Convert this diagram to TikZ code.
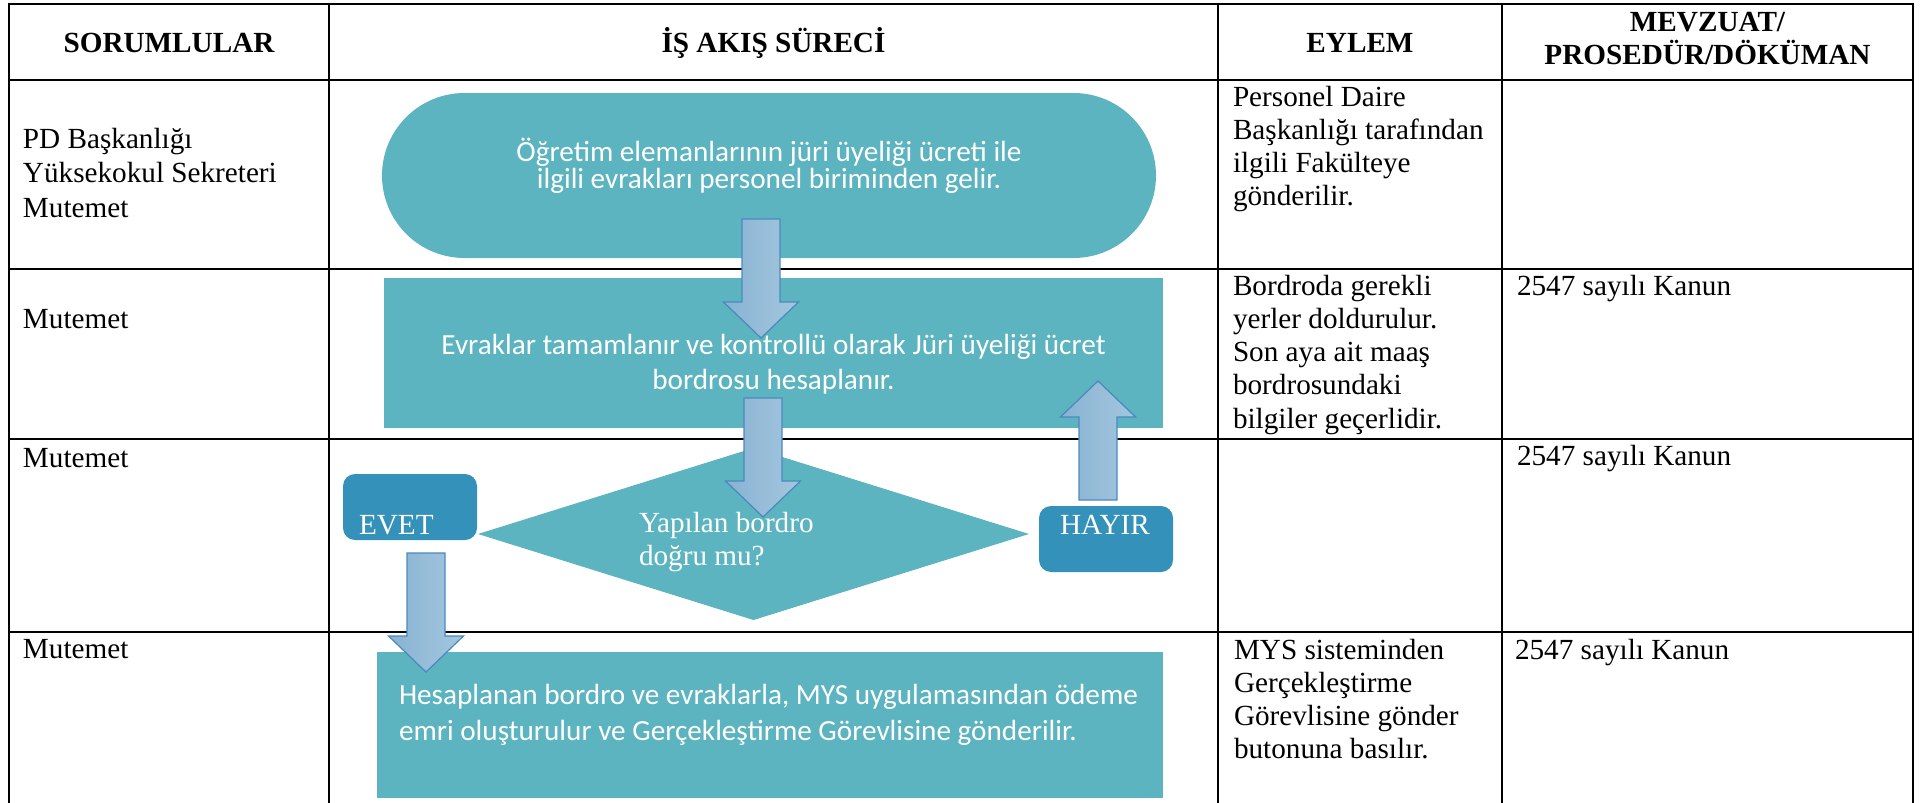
\documentclass[tikz,border=0pt]{standalone}
\usepackage{fontspec}
\setmainfont{Liberation Serif}
\newfontfamily\calib{Carlito}
\usetikzlibrary{shapes.geometric}
\definecolor{flowteal}{RGB}{91,180,191}
\definecolor{flowblue}{RGB}{52,146,186}
\definecolor{arrowL}{RGB}{136,179,211}
\definecolor{arrowR}{RGB}{164,198,222}
\definecolor{arrowE}{RGB}{74,137,190}
\newcommand\linesC[2]{\vtop{\baselineskip=#1\lineskiplimit=-\maxdimen\lineskip=0pt\relax\halign{\hfil##\hfil\cr#2\crcr}}}
\newcommand\linesL[2]{\vtop{\baselineskip=#1\lineskiplimit=-\maxdimen\lineskip=0pt\relax\halign{##\hfil\cr#2\crcr}}}
\begin{document}
\begin{tikzpicture}[x=0.5pt,y=-0.5pt,
  tableline/.style={line width=1.3pt, line cap=rect},
  tnr/.style={inner sep=0pt, outer sep=0pt, font=\fontsize{14.6}{17}\selectfont},
  cal/.style={inner sep=0pt, outer sep=0pt, text=white, font=\calib\fontsize{14.6}{17}\selectfont},
  flowshape/.style={fill=flowteal, draw=none, inner sep=0pt, outer sep=0pt},
  answerbox/.style={fill=flowblue, draw=none, rounded corners=6pt, inner sep=0pt, outer sep=0pt, minimum width=67pt, minimum height=33pt},
  blockarrow/.style={draw=arrowE, line width=0.6pt, left color=arrowL, right color=arrowR},
  downarrow/.pic={\path[blockarrow] (-19,0) -- (19,0) -- (19,83) -- (37.5,83) -- (0,119) -- (-37.5,83) -- (-19,83) -- cycle;}
]
\useasboundingbox (0,0) rectangle (1928,803);

% table grid
\draw[tableline] (9,4) -- (1913,4);
\foreach \y in {80,269,439,632} \draw[tableline] (9,\y) -- (1913,\y);
\foreach \x in {9,329,1218,1502,1913} \draw[tableline] (\x,4) -- (\x,803);

% header
\node[tnr, anchor=base] (hSor) at (169,52) {\bfseries SORUMLULAR};
\node[tnr, anchor=base] (hIs) at (773.5,52) {\bfseries İŞ AKIŞ SÜRECİ};
\node[tnr, anchor=base] (hEy) at (1360,52) {\bfseries EYLEM};
\node[tnr, anchor=base] (hMev) at (1707.5,32) {\bfseries\linesC{16.5pt}{MEVZUAT/\cr PROSEDÜR/DÖKÜMAN}};

% column 1
\node[tnr, anchor=base west] (r1c1) at (23,148) {\linesL{17.25pt}{PD Başkanlığı\cr Yüksekokul Sekreteri\cr Mutemet}};
\node[tnr, anchor=base west] (r2c1) at (23,328) {Mutemet};
\node[tnr, anchor=base west] (r3c1) at (23,467) {Mutemet};
\node[tnr, anchor=base west] (r4c1) at (23,658) {Mutemet};

% column 3
\node[tnr, anchor=base west] (r1c3) at (1233,106) {\linesL{16.65pt}{Personel Daire\cr Başkanlığı tarafından\cr ilgili Fakülteye\cr gönderilir.}};
\node[tnr, anchor=base west] (r2c3) at (1233,295) {\linesL{16.65pt}{Bordroda gerekli\cr yerler doldurulur.\cr Son aya ait maaş\cr bordrosundaki\cr bilgiler geçerlidir.}};
\node[tnr, anchor=base west] (r4c3) at (1234,659) {\linesL{16.65pt}{MYS sisteminden\cr Gerçekleştirme\cr Görevlisine gönder\cr butonuna basılır.}};

% column 4
\node[tnr, anchor=base west] (r2c4) at (1517,295) {2547 sayılı Kanun};
\node[tnr, anchor=base west] (r3c4) at (1517,465) {2547 sayılı Kanun};
\node[tnr, anchor=base west] (r4c4) at (1515,659) {2547 sayılı Kanun};

% flow shapes
\node[flowshape, minimum width=387pt, minimum height=82.5pt, rounded corners=41.25pt] (start) at (769,175.5) {};
\node[flowshape, minimum width=389.5pt, minimum height=75pt] (calc) at (773.5,353) {};
\node[flowshape, diamond, minimum width=275.5pt, minimum height=86pt] (check) at (753.5,534) {};
\node[answerbox] (evet) at (410,507) {};
\node[answerbox] (hayir) at (1106,539) {};
\node[flowshape, minimum width=393pt, minimum height=73pt] (order) at (770,725) {};

% flow texts
\node[cal, anchor=base] (startText) at (769,161) {\linesC{13.5pt}{Öğretim elemanlarının jüri üyeliği ücreti ile\cr ilgili evrakları personel biriminden gelir.}};
\node[cal, anchor=base] (calcText) at (773.5,354) {\linesC{17.5pt}{Evraklar tamamlanır ve kontrollü olarak Jüri üyeliği ücret\cr bordrosu hesaplanır.}};
\node[cal, anchor=base west] (orderText) at (399,704) {\linesL{18pt}{Hesaplanan bordro ve evraklarla, MYS uygulamasından ödeme\cr emri oluşturulur ve Gerçekleştirme Görevlisine gönderilir.}};
\node[tnr, text=white, anchor=base west] (checkText) at (639,532) {\linesL{16.5pt}{Yapılan bordro\cr doğru mu?}};
\node[tnr, text=white, anchor=base west] (evetText) at (359,534) {EVET};
\node[tnr, text=white, anchor=base west] (hayirText) at (1060,534) {HAYIR};

% block arrows
\pic at (761,219) {downarrow};
\pic at (763,398) {downarrow};
\pic[rotate=180] at (1098,500) {downarrow};
\pic at (426,553) {downarrow};
\end{tikzpicture}
\end{document}
